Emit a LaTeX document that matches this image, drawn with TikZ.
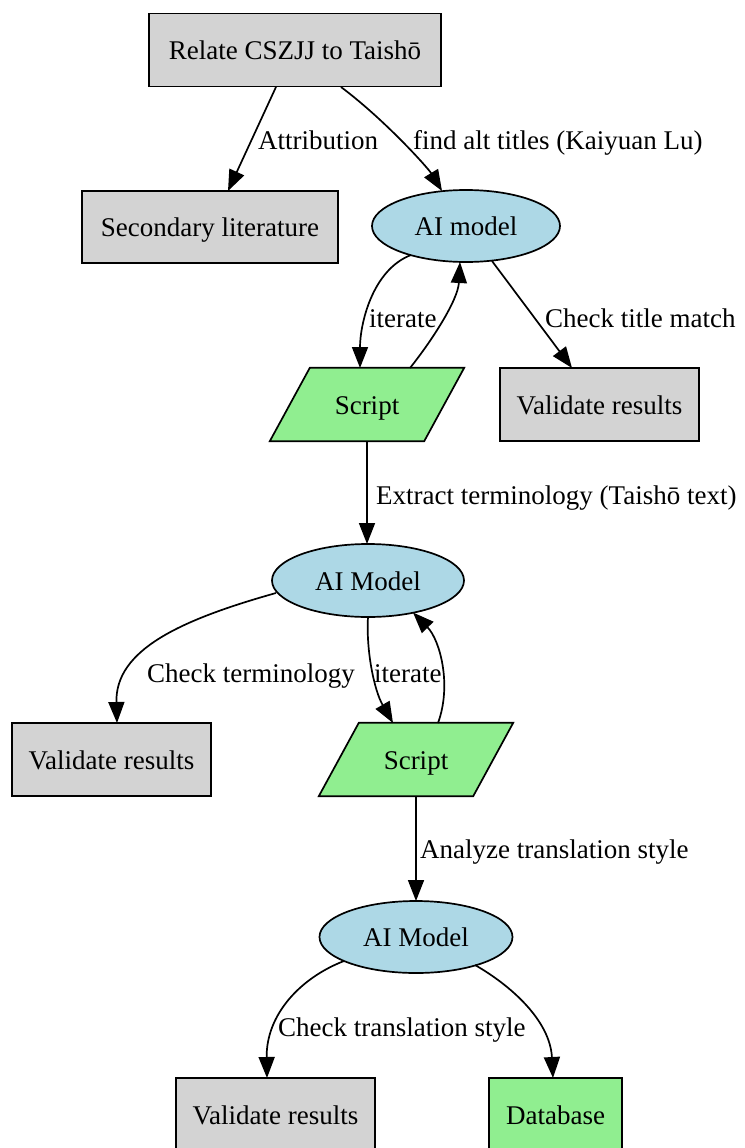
\documentclass[tikz,border=0pt]{standalone}
\usepackage{fontspec}
\setmainfont{Liberation Serif}
\usetikzlibrary{arrows.meta,shapes.geometric,calc,backgrounds}
\definecolor{lgray}{HTML}{D3D3D3}
\definecolor{lblue}{HTML}{ADD8E6}
\definecolor{lgreen}{HTML}{90EE90}
\begin{document}
\begin{tikzpicture}[x=1pt,y=-1pt,
  every node/.style={font=\fontsize{27}{32}\selectfont, inner sep=0pt},
  nodetext/.style={text height=19pt, text depth=0pt},
  box/.style={nodetext, draw, fill=lgray, line width=1.7pt, minimum height=73pt},
  ell/.style={nodetext, draw, ellipse, fill=lblue, line width=1.7pt, minimum height=72pt},
  scr/.style={nodetext, minimum width=154pt, minimum height=73pt},
  grn/.style={nodetext, draw, fill=lgreen, line width=1.7pt, minimum height=73pt},
  para/.style={draw, fill=lgreen, line width=1.7pt, line join=miter},
  lbl/.style={anchor=base west},
  arr/.style={line width=1.7pt, -{Triangle[length=21pt,width=16pt]}},
]
\useasboundingbox (0,0) rectangle (744,1148);
\clip (0,0) rectangle (744,1148);

% nodes
\node[box, minimum width=292pt] (rel) at (295,50) {Relate CSZJJ to Taishō};
\node[box, minimum width=256pt, minimum height=72pt] (sec) at (210,227) {Secondary literature};
\node[ell, minimum width=188pt] (ai1) at (466,226) {AI model};
\node[scr] (s1) at (367,404.5) {Script};
\node[box, minimum width=199pt] (v1) at (599.5,404.5) {Validate results};
\node[ell, minimum width=192pt, minimum height=73pt] (ai2) at (368,580.5) {AI Model};
\node[box, minimum width=199pt] (v2) at (111.5,759.5) {Validate results};
\node[scr] (s2) at (416,759.5) {Script};
\node[ell, minimum width=193pt] (ai3) at (416,937) {AI Model};
\node[box, minimum width=199pt] (v3) at (275.5,1114.5) {Validate results};
\node[grn, minimum width=133pt] (db) at (555.5,1114.5) {Database};

\begin{pgfonlayer}{background}
\foreach \n in {s1,s2}
  \draw[para] ($(\n.north west)+(20,0)$) -- ($(\n.north east)+(20,0)$)
    -- ($(\n.south east)+(-20,0)$) -- ($(\n.south west)+(-20,0)$) -- cycle;
\end{pgfonlayer}

% connectors
\draw[arr] ($(rel)+(-19,37)$) -- ($(sec)+(18,-36)$);
\draw[arr] ($(rel)+(46,37)$) .. controls ($(rel)+(90,70)$) and ($(ai1)+(-38,-58)$) .. ($(ai1)+(-24,-35)$);
\draw[arr] ($(ai1)+(-55,29)$) .. controls ($(ai1)+(-94,44)$) and ($(s1)+(-7,-80)$) .. ($(s1)+(-7,-36.5)$);
\draw[arr] ($(s1)+(43,-36.5)$) .. controls ($(s1)+(65,-64)$) and ($(ai1)+(-8,74)$) .. ($(ai1)+(-6,36)$);
\draw[arr] ($(ai1)+(26,35)$) -- ($(v1)+(-27.5,-36.5)$);
\draw[arr] ($(s1)+(0,36.5)$) -- ($(ai2)+(-1,-36.5)$);
\draw[arr] ($(ai2)+(-92,12.5)$) .. controls ($(ai2)+(-188,39.5)$) and ($(v2)+(3.5,-109.5)$) .. ($(v2)+(5.5,-36.5)$);
\draw[arr] ($(ai2)+(0,36.5)$) .. controls ($(ai2)+(-2,69.5)$) and ($(s2)+(-42,-69.5)$) .. ($(s2)+(-23,-36.5)$);
\draw[arr] ($(s2)+(22,-36.5)$) .. controls ($(s2)+(36,-74.5)$) and ($(ai2)+(72,59.5)$) .. ($(ai2)+(45,32)$);
\draw[arr] ($(s2)+(0,36.5)$) -- ($(ai3)+(0,-36)$);
\draw[arr] ($(ai3)+(-72,24)$) .. controls ($(ai3)+(-116,41)$) and ($(v3)+(-9.5,-99.5)$) .. ($(v3)+(-8.5,-36.5)$);
\draw[arr] ($(ai3)+(59,28)$) .. controls ($(ai3)+(94,48)$) and ($(db)+(-5.5,-94.5)$) .. ($(db)+(-2.5,-36.5)$);

% labels
\node[lbl] (l1) at (258,149) {Attribution};
\node[lbl] (l2) at (413,149) {find alt titles (Kaiyuan Lu)};
\node[lbl] (l3) at (369,327) {iterate};
\node[lbl] (l4) at (545,327) {Check title match};
\node[lbl] (l5) at (376,504) {Extract terminology (Taishō text)};
\node[lbl] (l6) at (147,682) {Check terminology};
\node[lbl] (l7) at (374,682) {iterate};
\node[lbl] (l8) at (420,858) {Analyze translation style};
\node[lbl] (l9) at (278,1036) {Check translation style};
\end{tikzpicture}
\end{document}
